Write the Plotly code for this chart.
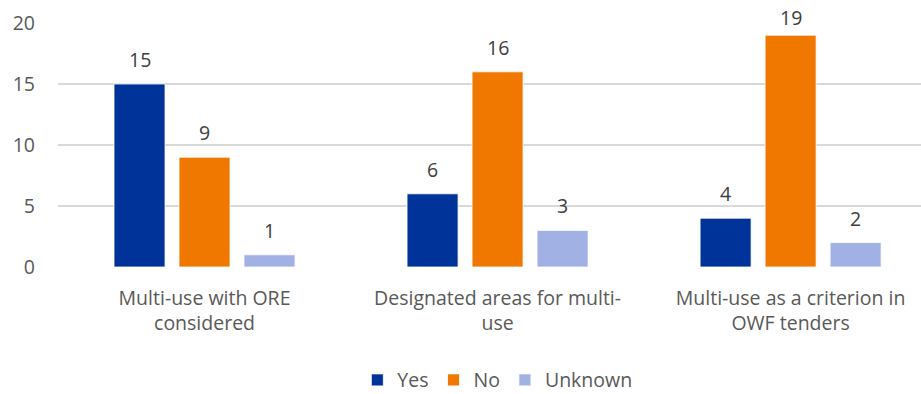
import plotly.graph_objects as go

categories = ["Multi-use with ORE<br>considered", "Designated areas for multi-<br>use", "Multi-use as a criterion in<br>OWF tenders"]
series_names = ["Yes", "No", "Unknown"]
yes_vals = [15, 6, 4]
no_vals = [9, 16, 19]
unknown_vals = [1, 3, 2]
colors = ["#003399", "#F07800", "#A1B1E4"]
y_ticks = [0, 5, 10, 15, 20]

font_family = "Open Sans, Liberation Sans, sans-serif"
label_color = "#404040"
axis_color = "#595959"
fsize = 19.5

W, H = 921, 394
m_top, m_bot = 23, 127
y_max = 20
plot_h = H - m_top - m_bot

bargap = 0.3345
slot = (1 - bargap) / len(series_names)

fig = go.Figure()
x_pos = list(range(len(categories)))
annotations = []
for k, (name, vals, col) in enumerate(zip(series_names, [yes_vals, no_vals, unknown_vals], colors)):
    fig.add_trace(go.Bar(
        x=x_pos, y=vals, name=name,
        marker=dict(color=col, line=dict(color="white", width=0.8)),
        cliponaxis=False,
    ))
    # value labels above each bar, nudged down when close to the top edge
    for i, v in zip(x_pos, vals):
        bar_top_px = m_top + (y_max - v) / y_max * plot_h
        shift = min(9, bar_top_px - 33)
        annotations.append(dict(
            x=i + (k - 1) * slot, y=v, xref="x", yref="y", text=str(v),
            showarrow=False, yanchor="bottom", yshift=shift,
            font=dict(size=fsize, color=label_color, family=font_family),
        ))

fig.update_layout(
    width=W, height=H,
    margin=dict(l=58, r=0, t=m_top, b=m_bot),
    paper_bgcolor="white", plot_bgcolor="white",
    barmode="group", bargap=bargap, bargroupgap=0.215,
    font=dict(family=font_family, size=fsize, color=axis_color),
    annotations=annotations,
    legend=dict(orientation="h", x=0.54, xanchor="center", xref="container",
                y=0.035, yanchor="middle", yref="container",
                font=dict(size=fsize, color=axis_color), itemwidth=30, tracegroupgap=0),
    xaxis=dict(tickvals=x_pos, ticktext=categories, range=[-0.5, 2.445],
               showgrid=False, zeroline=False, ticks="", ticklabelstandoff=17,
               tickfont=dict(size=fsize, color=axis_color)),
    yaxis=dict(range=[0, y_max], tickvals=y_ticks, showgrid=True, gridcolor="#D9D9D9",
               gridwidth=1.5, zeroline=False, ticks="", ticklabelstandoff=22,
               tickfont=dict(size=fsize, color=axis_color)),
)
fig.write_html("out.html")
